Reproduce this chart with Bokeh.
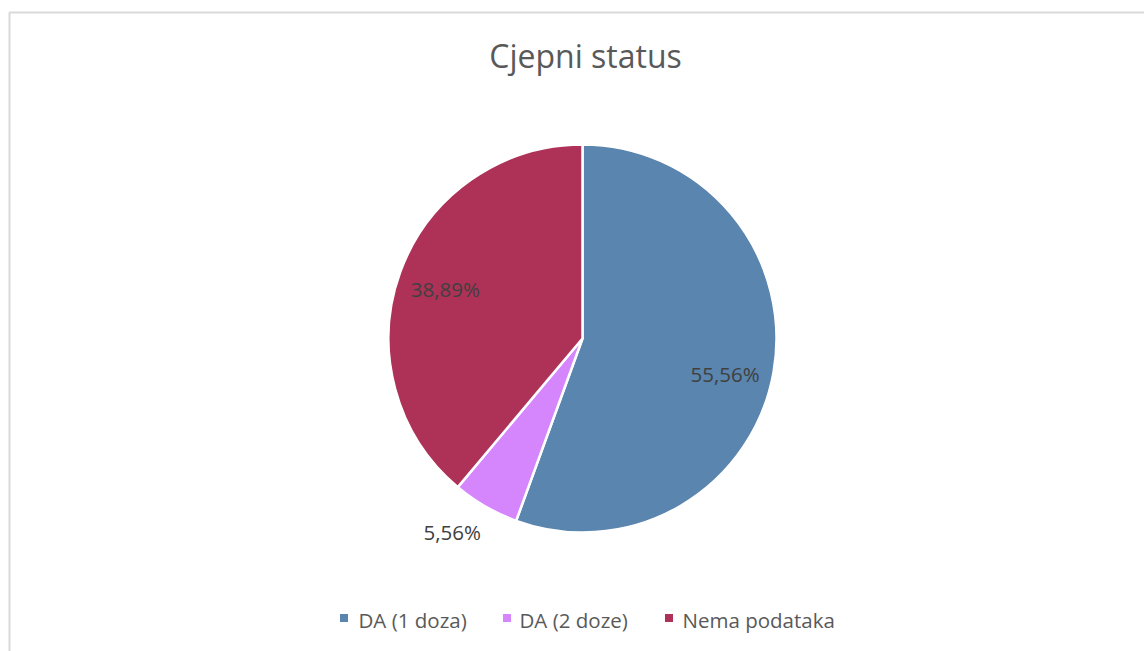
import math
from bokeh.plotting import figure
from bokeh.models import Range1d, ColumnDataSource
from bokeh.core.properties import value
from bokeh.embed import file_html
from bokeh.resources import INLINE

# ---- data ----
title_text = "Cjepni status"
categories = ["DA (1 doza)", "DA (2 doze)", "Nema podataka"]
counts = [10, 1, 7]
labels = ["55,56%", "5,56%", "38,89%"]
colors = ["#5A85AE", "#D586FD", "#AE3157"]

# ---- layout (pixel-like data space) ----
W, H = 1144, 651
FONT = "Open Sans"
cx, cy, R = 582, 313, 194
label_r = [147, 233, 146]
label_shift_deg = [4, 4, 0]   # best-fit nudge of label from slice mid-angle

p = figure(width=W, height=H, output_backend="svg", toolbar_location=None,
           x_range=Range1d(0, W), y_range=Range1d(0, H),
           x_axis_type=None, y_axis_type=None, min_border=0)
p.outline_line_color = None
p.grid.visible = False
p.background_fill_color = "white"
p.border_fill_color = "white"

# chart-area border (left and top edges visible)
p.line(x=[9, 9, W + 20], y=[-20, 639, 639], line_color="#D9D9D9", line_width=2)

total = float(sum(counts))
fracs = [c / total for c in counts]
starts, ends, mids = [], [], []
acc = 0.0
for f in fracs:
    starts.append(math.pi / 2 - 2 * math.pi * acc)
    mids.append(2 * math.pi * (acc + f / 2))  # clockwise from top
    acc += f
    ends.append(math.pi / 2 - 2 * math.pi * acc)

src = ColumnDataSource(dict(start=starts, end=ends, color=colors, cat=categories))
p.wedge(x=cx, y=cy, radius=R, radius_units="screen", start_angle="start", end_angle="end",
        direction="clock", fill_color="color", line_color="white", line_width=2.5, source=src)

angs = [m + math.radians(s) for m, s in zip(mids, label_shift_deg)]
lx = [cx + r * math.sin(a) for r, a in zip(label_r, angs)]
ly = [cy + r * math.cos(a) for r, a in zip(label_r, angs)]
p.text(x=lx, y=ly, text=labels, text_font=value(FONT), text_font_size="20.5px",
       text_color="#404040", text_align="center", text_baseline="middle")

# title
p.text(x=[585], y=[596], text=[title_text], text_font=value(FONT), text_font_size="32px",
       text_color="#595959", text_align="center", text_baseline="middle")

# legend
sq_x = [343.5, 506.5, 668.5]
tx_x = [358, 519, 682]
p.scatter(x=sq_x, y=[33.5] * 3, marker="square", size=8, fill_color=colors, line_color=None)
p.text(x=tx_x, y=[31.5] * 3, text=categories, text_font=value(FONT), text_font_size="20.5px",
       text_color="#595959", text_align="left", text_baseline="middle")

open("out.html", "w").write(file_html(p, INLINE))
